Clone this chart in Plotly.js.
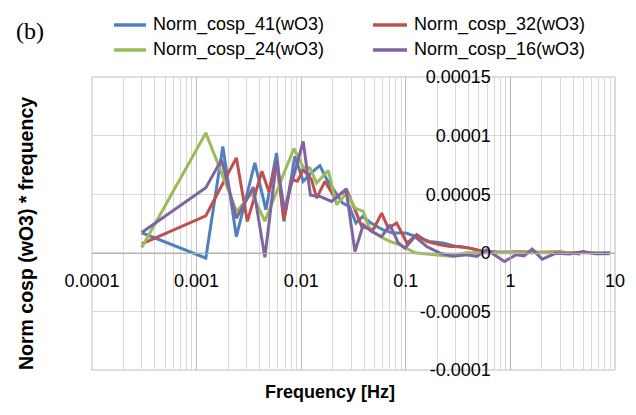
<!DOCTYPE html>
<html>
<head>
<meta charset="utf-8">
<script src="https://cdn.plot.ly/plotly-3.0.1.min.js"></script>
<style>html,body{margin:0;padding:0;background:#fff;}#chart{width:636px;height:415px;}</style>
</head>
<body>
<div id="chart"></div>
<script>
// Series names
const seriesNames = ["Norm_cosp_41(wO3)", "Norm_cosp_32(wO3)", "Norm_cosp_24(wO3)", "Norm_cosp_16(wO3)"];

// Norm_cosp_41(wO3)
const freq41 = [2.99e-4, 1.225e-3, 1.781e-3, 2.399e-3, 3.606e-3, 4.594e-3, 5.816e-3, 6.83e-3, 8.705e-3, 1.045e-2, 1.238e-2, 1.51e-2, 1.762e-2, 2.49e-2, 2.88e-2, 3.337e-2, 3.87e-2, 4.645e-2, 6.01e-2, 7.49e-2, 0.1004, 0.1252, 0.1678, 0.2255, 0.302, 0.405, 0.544, 0.797, 1.238, 1.924, 2.99, 4.645, 7.22, 8.99];
const cosp41 = [1.71e-5, -0.45e-5, 9.08e-5, 1.39e-5, 7.67e-5, 3.68e-5, 8.52e-5, 2.68e-5, 8.23e-5, 6.1e-5, 6.8e-5, 7.44e-5, 6.24e-5, 4.25e-5, 3.96e-5, 2.54e-5, 3.1e-5, 2.54e-5, 1.97e-5, 1.68e-5, 1.68e-5, 1.39e-5, 0.97e-5, 0.83e-5, 0.54e-5, 0.4e-5, 0.11e-5, 0.05e-5, 0.0, 0.02e-5, 0.0, 0.02e-5, 0.0, 0.0];

// Norm_cosp_32(wO3)
const freq32 = [2.99e-4, 1.225e-3, 2.399e-3, 3.056e-3, 4.207e-3, 4.909e-3, 5.816e-3, 6.83e-3, 8.09e-3, 9.2e-3, 1.045e-2, 1.257e-2, 1.404e-2, 1.686e-2, 2.1e-2, 2.72e-2, 3.265e-2, 3.785e-2, 4.887e-2, 5.88e-2, 6.8e-2, 8.18e-2, 0.1027, 0.1272, 0.1585, 0.2124, 0.265, 0.33, 0.4115, 0.5514, 0.797, 1.238, 1.924, 2.99, 4.645];
const cosp32 = [0.77e-5, 3.16e-5, 8.1e-5, 2.68e-5, 6.95e-5, 5.24e-5, 7.8e-5, 2.82e-5, 6.24e-5, 6.1e-5, 7.1e-5, 6.24e-5, 4.67e-5, 6.1e-5, 4.67e-5, 5.38e-5, 3.68e-5, 2.25e-5, 1.97e-5, 3.39e-5, 2.11e-5, 2.54e-5, 0.83e-5, 1.54e-5, 0.97e-5, 0.68e-5, 0.54e-5, 0.54e-5, 0.4e-5, 0.11e-5, 0.05e-5, 0.1e-5, 0.05e-5, 0.1e-5, -0.1e-5];

// Norm_cosp_24(wO3)
const freq24 = [2.99e-4, 1.225e-3, 2.425e-3, 3.353e-3, 4.494e-3, 6.73e-3, 8.51e-3, 1.045e-2, 1.211e-2, 1.404e-2, 1.813e-2, 2.18e-2, 2.72e-2, 3.265e-2, 3.92e-2, 4.545e-2, 5.665e-2, 7.06e-2, 8.8e-2, 0.1224, 0.1834, 0.265, 0.383, 0.513, 0.797, 1.238, 1.924, 2.99, 4.645, 7.71];
const cosp24 = [0.45e-5, 10.23e-5, 3.5e-5, 5.1e-5, 2.7e-5, 6.52e-5, 8.9e-5, 7.3e-5, 7.24e-5, 5.96e-5, 7.03e-5, 4.1e-5, 5.1e-5, 3.82e-5, 3.53e-5, 1.97e-5, 1.39e-5, 0.97e-5, 0.68e-5, 0.0, -0.17e-5, -0.3e-5, 0.0, 0.0, 0.05e-5, 0.0, 0.05e-5, 0.0, 0.05e-5, 0.0];

// Norm_cosp_16(wO3)
const freq16 = [2.99e-4, 1.225e-3, 1.731e-3, 2.399e-3, 3.488e-3, 4.494e-3, 5.816e-3, 6.907e-3, 1.045e-2, 1.225e-2, 1.51e-2, 1.954e-2, 2.68e-2, 3.265e-2, 3.92e-2, 4.72e-2, 5.88e-2, 7.06e-2, 8.47e-2, 9.82e-2, 0.1224, 0.1585, 0.2124, 0.285, 0.383, 0.477, 0.594, 0.877, 1.135, 1.353, 1.614, 2.01, 2.735, 3.65, 4.97, 6.47, 8.81];
const cosp16 = [1.74e-5, 5.56e-5, 7.95e-5, 2.95e-5, 5.6e-5, -0.38e-5, 7.86e-5, 3.68e-5, 9.51e-5, 4.91e-5, 4.81e-5, 4.38e-5, 5.44e-5, 0.11e-5, 2.39e-5, 1.82e-5, 1.39e-5, 2.39e-5, 0.83e-5, 0.4e-5, 1.39e-5, 0.54e-5, -0.03e-5, -0.3e-5, -0.17e-5, -0.3e-5, 0.26e-5, -0.74e-5, -0.17e-5, -0.26e-5, 0.32e-5, -0.54e-5, -0.03e-5, -0.11e-5, 0.11e-5, -0.09e-5, -0.09e-5];

// Axis ticks
const xTickVals = [0.0001, 0.001, 0.01, 0.1, 1, 10];
const xTickText = ["0.0001", "0.001", "0.01", "0.1", "1", "10"];
const yTickVals = [-0.0001, -0.00005, 0, 0.00005, 0.0001, 0.00015];
const yTickText = ["-0.0001", "-0.00005", "0", "0.00005", "0.0001", "0.00015"];

const colors = ["#4F81BD", "#C0504D", "#9BBB59", "#8064A2"];
const xs = [freq41, freq32, freq24, freq16];
const ys = [cosp41, cosp32, cosp24, cosp16];

const traces = seriesNames.map((n, i) => ({
  type: "scatter", mode: "lines", name: n,
  x: xs[i], y: ys[i],
  line: {color: colors[i], width: 3},
  hoverinfo: "skip"
}));

// minor grid positions (2..9 within each decade)
const minorVals = [];
for (let d = -4; d < 1; d++) {
  for (let k = 2; k <= 9; k++) minorVals.push(k * Math.pow(10, d));
}

const tickFont = {family: "Liberation Sans, Arial, sans-serif", size: 18, color: "#000"};
const legFont = {family: "Liberation Sans, Arial, sans-serif", size: 18, color: "#000"};

// Legend drawn manually: 2 columns x 2 rows (paper coordinates)
const legCols = [{x0: 0.0421, x1: 0.1033, tx: 0.1128}, {x0: 0.5373, x1: 0.6023, tx: 0.6119}];
const legRows = [1.1775, 1.0922];
const legShapes = [];
const legAnns = [];
seriesNames.forEach((n, i) => {
  const c = legCols[i % 2], r = legRows[Math.floor(i / 2)];
  legShapes.push({type: "line", xref: "paper", yref: "paper", x0: c.x0, x1: c.x1, y0: r, y1: r,
                  line: {color: colors[i], width: 3.5}});
  legAnns.push({text: n, xref: "paper", yref: "paper", x: c.tx, y: r, xanchor: "left", yanchor: "middle",
                showarrow: false, font: legFont});
});

const layout = {
  width: 636, height: 415,
  margin: {l: 92, r: 21, t: 77, b: 45},
  paper_bgcolor: "#fff", plot_bgcolor: "#fff",
  showlegend: false,
  xaxis: {
    type: "log", range: [-4, 1], anchor: "free", position: 0.4,
    tickmode: "array", tickvals: xTickVals, ticktext: xTickText,
    tickfont: tickFont, ticks: "", ticklabelstandoff: 12,
    showgrid: true, gridcolor: "#bdbdbd", gridwidth: 1,
    minor: {tickmode: "array", tickvals: minorVals, showgrid: true, gridcolor: "#d9d9d9", gridwidth: 1, ticks: ""},
    showline: true, linecolor: "#b0b0b0", linewidth: 1,
    zeroline: false, fixedrange: true
  },
  yaxis: {
    range: [-0.0001, 0.00015], anchor: "free", position: 0.8,
    tickmode: "array", tickvals: yTickVals, ticktext: yTickText,
    tickfont: tickFont, ticks: "", ticklabelstandoff: 16,
    showgrid: true, gridcolor: "#d9d9d9", gridwidth: 1,
    showline: true, linecolor: "#b0b0b0", linewidth: 1,
    zeroline: false, fixedrange: true
  },
  annotations: [
    {text: "(b)", xref: "paper", yref: "paper", x: -0.1195, y: 1.157, xanchor: "center", yanchor: "middle",
     showarrow: false, font: {family: "Liberation Serif, Times New Roman, serif", size: 24, color: "#000"}},
    {text: "<b>Norm cosp (wO3) * frequency</b>", xref: "paper", yref: "paper", x: -0.1262, y: 0.4676,
     xanchor: "center", yanchor: "middle", textangle: -90, showarrow: false,
     font: {family: "Liberation Sans, Arial, sans-serif", size: 19.5, color: "#000"}},
    {text: "<b>Frequency [Hz]</b>", xref: "paper", yref: "paper", x: 0.455, y: -0.075,
     xanchor: "center", yanchor: "middle", showarrow: false,
     font: {family: "Liberation Sans, Arial, sans-serif", size: 18, color: "#000"}}
  ].concat(legAnns),
  shapes: [
    {type: "rect", xref: "paper", yref: "paper", x0: 0, x1: 1, y0: 0, y1: 1,
     line: {color: "#bdbdbd", width: 1}, layer: "below"}
  ].concat(legShapes)
};

Plotly.newPlot("chart", traces, layout, {staticPlot: true, displayModeBar: false});
</script>
</body>
</html>
